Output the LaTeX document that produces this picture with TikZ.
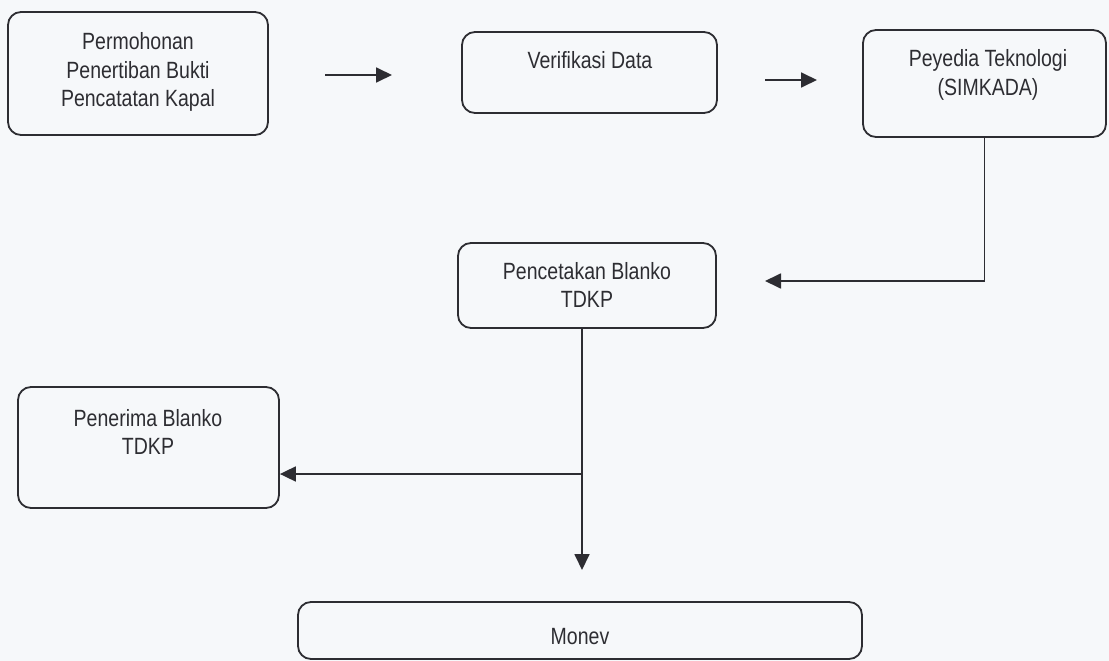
\documentclass[tikz,border=0pt]{standalone}
\usepackage{fontspec}
\setmainfont{Liberation Sans}[FakeStretch=0.83]
\usetikzlibrary{arrows.meta}
\definecolor{linec}{RGB}{45,45,50}
\definecolor{textc}{RGB}{45,45,50}
\definecolor{bgc}{RGB}{246,248,250}
\begin{document}
\begin{tikzpicture}[x=1pt,y=-1pt,
  box/.style={draw=linec, line width=1.8pt, rounded corners=13pt, inner sep=0pt},
  txt/.style={text=textc, align=center, inner sep=0pt, font=\fontsize{23.5}{28.5}\selectfont},
  conn/.style={draw=linec, line width=1.8pt},
  arr/.style={conn, -{Triangle[length=16pt,width=15pt]}}]
\fill[bgc] (0,0) rectangle (1109,661);
\useasboundingbox (0,0) rectangle (1109,661);
% boxes
\node[box, minimum width=260pt, minimum height=123pt] (b1) at (138,73.5) {};
\node[box, minimum width=255pt, minimum height=81pt] (b2) at (589.5,72.5) {};
\node[box, minimum width=243pt, minimum height=107pt] (b3) at (984.5,83.5) {};
\node[box, minimum width=258pt, minimum height=85pt] (b4) at (587,285.5) {};
\node[box, minimum width=261pt, minimum height=121pt] (b5) at (148.5,447.5) {};
\node[box, minimum width=564pt, minimum height=57pt] (b6) at (580,630.5) {};
% texts
\node[txt] (t1) at (138,72) {Permohonan\\Penertiban Bukti\\Pencatatan Kapal};
\node[txt] (t2) at (590,60) {Verifikasi Data};
\node[txt] (t3) at (988,75) {Peyedia Teknologi\\(SIMKADA)};
\node[txt] (t4) at (587,285) {Pencetakan Blanko\\TDKP};
\node[txt] (t5) at (148,432) {Penerima Blanko\\TDKP};
\node[txt] (t6) at (580,637) {Monev};
% free arrow ends
\coordinate (a1s) at (325,75);
\coordinate (a1e) at (392,75);
\coordinate (a2s) at (765,80);
\coordinate (a2e) at (817,80);
\coordinate (c4) at (765,281);
\coordinate (j) at (582,474);
\coordinate (d) at (582,570);
% connectors
\draw[arr] (a1s) -- (a1e);
\draw[arr] (a2s) -- (a2e);
\draw[arr] (b3.south) |- (c4);
\draw[arr] (b4.south -| j) -- (d);
\draw[arr] (j) -- (b5.east |- j);
\end{tikzpicture}
\end{document}
